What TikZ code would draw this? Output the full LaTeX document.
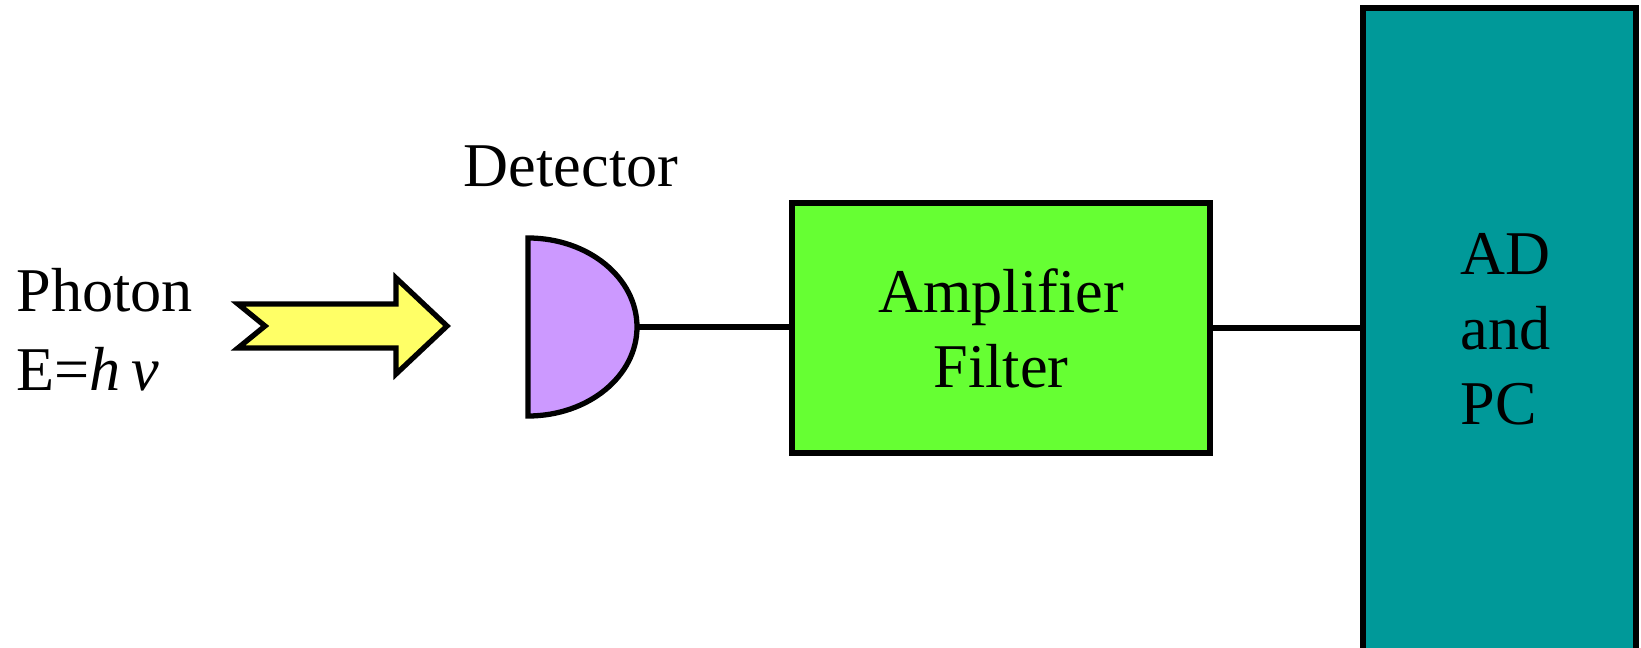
\documentclass[tikz,border=0pt]{standalone}
\usepackage{fontspec}
\setmainfont{Liberation Serif}
\usepackage{tikz}

\definecolor{photonyellow}{HTML}{FFFF66}
\definecolor{detviolet}{HTML}{CC99FF}
\definecolor{ampgreen}{HTML}{66FF33}
\definecolor{pcteal}{HTML}{009999}

\begin{document}
\begin{tikzpicture}[x=0.01cm,y=0.01cm,
        font=\fontsize{17.7}{22.5}\selectfont,
        block/.style={draw,line width=1.7pt,inner sep=0pt},
        txt/.style={inner sep=0pt,align=left},
        wire/.style={line width=1.6pt}]
        \clip (0,0) rectangle (1641,648);
        % incoming photon
        \node[txt,anchor=base west] (photon) at (16,257) {Photon\\E=\textit{h\,ν}};
        \draw[fill=photonyellow,line width=1.5pt,line join=miter]
            (238,344) -- (396,344) -- (396,370) -- (447,322) -- (396,274)
            -- (396,300) -- (238,300) -- (265,322) -- cycle;
        % detector, a half ellipse
        \draw[fill=detviolet,line width=1.5pt] (528,410) arc[start angle=90,end angle=-90,x radius=109,y radius=89] -- cycle;
        \coordinate (det) at (637,321);
        \node[inner sep=0pt,anchor=base] (detlabel) at (571,461) {Detector};
        % amplifier and computer
        \node[block,fill=ampgreen,minimum width=4.18cm,minimum height=2.5cm,align=center,font=\fontsize{17.7}{21.3}\selectfont] (amp) at (1001,320) {Amplifier\\Filter};
        \node[block,fill=pcteal,minimum width=2.73cm,minimum height=6.52cm] (pc) at (1499.5,314) {};
        \node[txt,anchor=base west,font=\fontsize{17.7}{21.4}\selectfont] (pclabel) at (1460,223) {AD\\and\\PC};
        \draw[wire] (det) -- (det -| amp.west);
        \draw[wire] (amp.east) -- (amp.east -| pc.west);
\end{tikzpicture}
\end{document}
